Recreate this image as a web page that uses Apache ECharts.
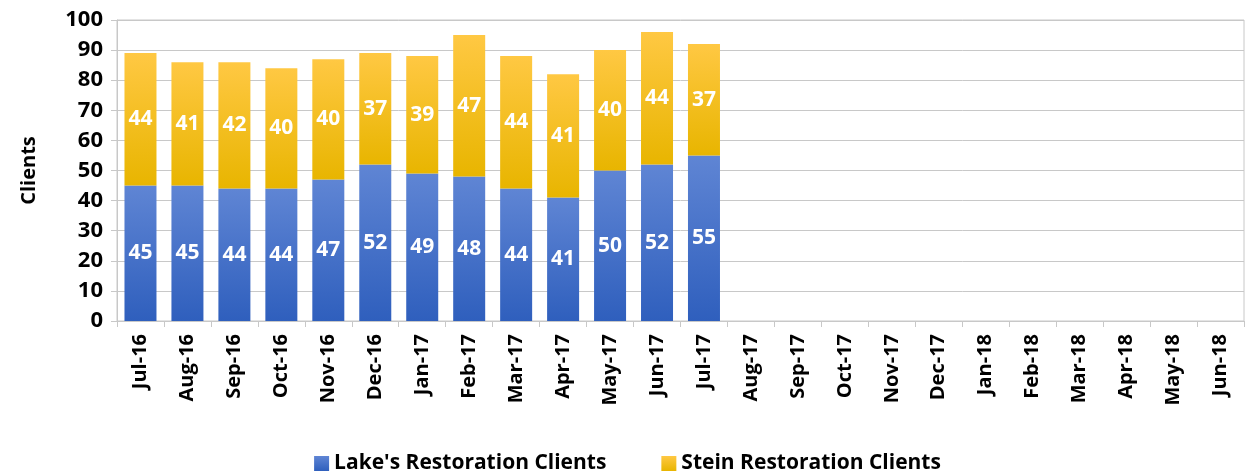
<!DOCTYPE html>
<html>
<head>
<meta charset="utf-8">
<script src="https://cdn.jsdelivr.net/npm/echarts@6/dist/echarts.min.js"></script>
<style>
html, body { margin: 0; padding: 0; background: #fff; }
#chart { width: 1255px; height: 475px; }
</style>
</head>
<body>
<div id="chart"></div>
<script>
var months = ['Jul-16', 'Aug-16', 'Sep-16', 'Oct-16', 'Nov-16', 'Dec-16', 'Jan-17', 'Feb-17',
  'Mar-17', 'Apr-17', 'May-17', 'Jun-17', 'Jul-17', 'Aug-17', 'Sep-17', 'Oct-17', 'Nov-17',
  'Dec-17', 'Jan-18', 'Feb-18', 'Mar-18', 'Apr-18', 'May-18', 'Jun-18'];
var lakeClients = [45, 45, 44, 44, 47, 52, 49, 48, 44, 41, 50, 52, 55];
var steinClients = [44, 41, 42, 40, 40, 37, 39, 47, 44, 41, 40, 44, 37];

var font = 'Open Sans';

function grad(top, bottom) {
  return new echarts.graphic.LinearGradient(0, 0, 0, 1, [
    { offset: 0, color: top },
    { offset: 1, color: bottom }
  ]);
}

var labelStyle = {
  show: true,
  position: 'inside',
  color: '#fff',
  fontFamily: font,
  fontWeight: 'bold',
  fontSize: 21
};

var chart = echarts.init(document.getElementById('chart'));
chart.setOption({
  animation: false,
  textStyle: { fontFamily: font },
  grid: { left: 117, right: 11, top: 20, bottom: 154, show: true, borderColor: '#c8c8c8', borderWidth: 1 },
  legend: {
    bottom: -4,
    left: 'center',
    itemGap: 55,
    itemWidth: 15,
    itemHeight: 15,
    icon: 'rect',
    textStyle: { fontFamily: font, fontWeight: 'bold', fontSize: 21, color: '#000' },
    data: ["Lake's Restoration Clients", 'Stein Restoration Clients']
  },
  xAxis: {
    type: 'category',
    data: months,
    axisLine: { lineStyle: { color: '#c8c8c8' } },
    axisTick: { show: true, length: 6, lineStyle: { color: '#c8c8c8' } },
    axisLabel: { rotate: 90, color: '#000', fontWeight: 'bold', fontSize: 20, fontFamily: font, margin: 13 }
  },
  yAxis: {
    type: 'value',
    min: 0,
    max: 100,
    interval: 10,
    name: 'Clients',
    nameLocation: 'middle',
    nameGap: 78,
    nameRotate: 90,
    nameTextStyle: { color: '#000', fontWeight: 'bold', fontSize: 20, fontFamily: font },
    axisLine: { show: true, lineStyle: { color: '#c8c8c8' } },
    axisTick: { show: true, length: 6, lineStyle: { color: '#c8c8c8' } },
    splitLine: { lineStyle: { color: '#c8c8c8' } },
    axisLabel: { color: '#000', fontWeight: 'bold', fontSize: 22, fontFamily: font, margin: 14 }
  },
  series: [
    {
      name: "Lake's Restoration Clients",
      type: 'bar',
      stack: 'total',
      barWidth: 32,
      data: lakeClients,
      itemStyle: { color: grad('#5f85d4', '#2f5fbd') },
      label: labelStyle
    },
    {
      name: 'Stein Restoration Clients',
      type: 'bar',
      stack: 'total',
      barWidth: 32,
      data: steinClients,
      itemStyle: { color: grad('#ffc843', '#e8b500') },
      label: labelStyle
    }
  ]
});
</script>
</body>
</html>
